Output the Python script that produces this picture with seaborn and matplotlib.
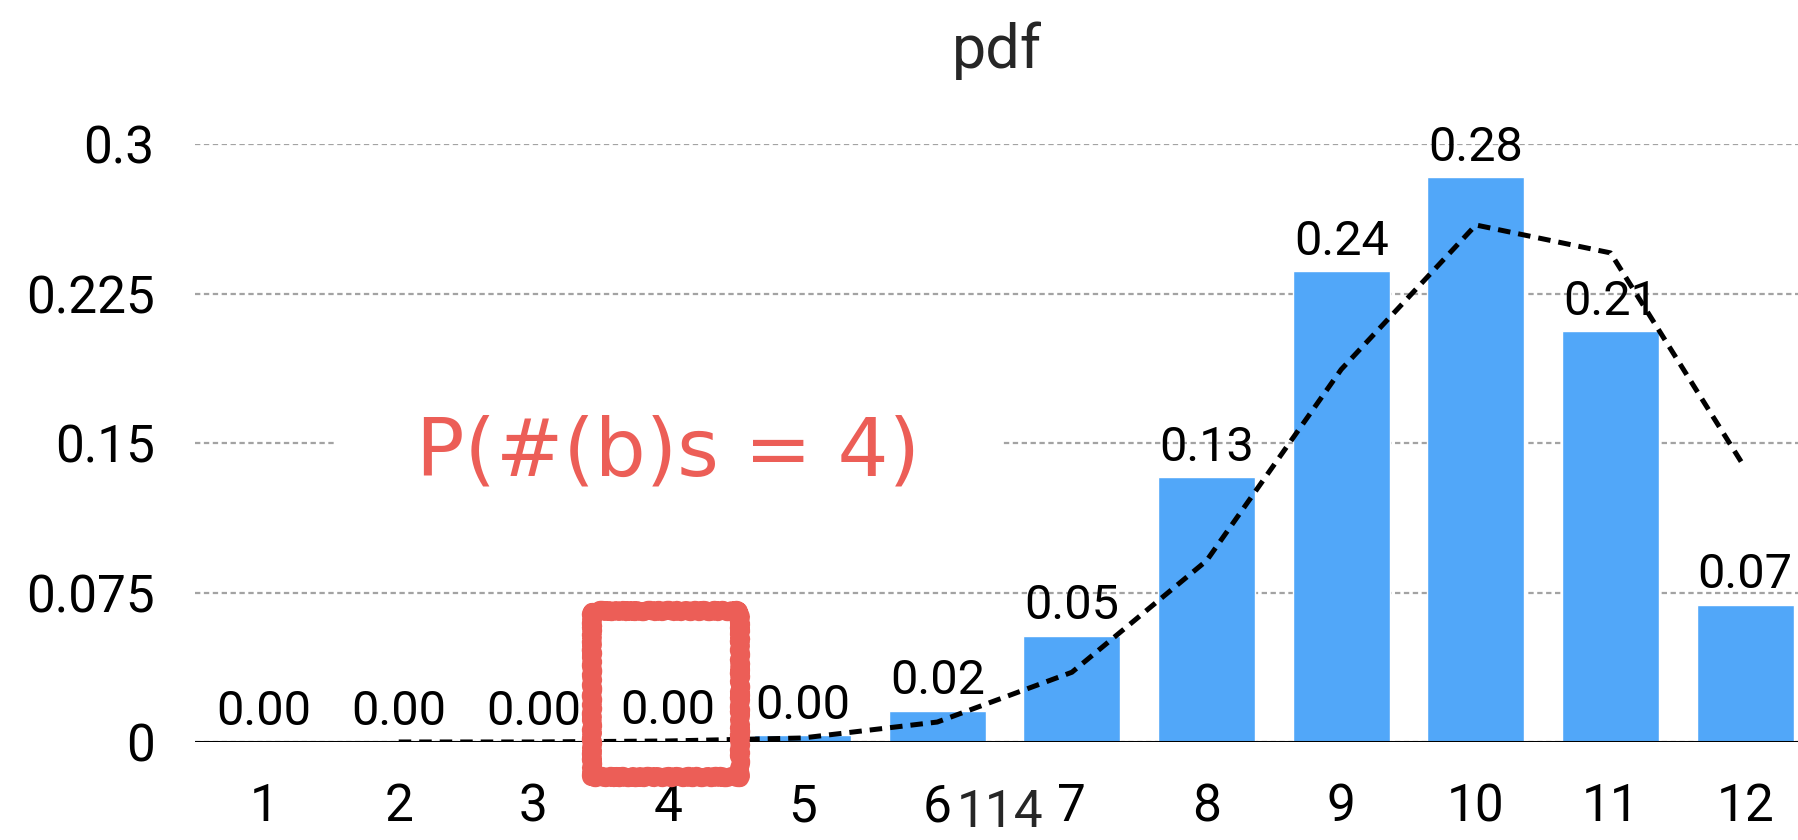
import matplotlib
matplotlib.use("Agg")
import matplotlib.pyplot as plt
import matplotlib.patches as mpatches
import seaborn as sns

# Probability of each count
counts = [1, 2, 3, 4, 5, 6, 7, 8, 9, 10, 11, 12]
pdf_values = [0.0000, 0.0000, 0.0001, 0.0005, 0.0033, 0.0155,
              0.0532, 0.1329, 0.2362, 0.2835, 0.2062, 0.0687]

# Dashed comparison curve
fit_x = [2, 3, 4, 5, 6, 7, 8, 9, 10, 11, 12]
fit_y = [0.0, 0.0, 0.0005, 0.002, 0.010, 0.035, 0.091, 0.187, 0.2595, 0.2455, 0.1375]

y_ticks = [0, 0.075, 0.15, 0.225, 0.3]
y_tick_labels = ["0", "0.075", "0.15", "0.225", "0.3"]

highlight_count = 4
annotation = "P(#(b)s = 4)"
page_number = "114"

BAR_BLUE = "#51A7F9"
CHALK_RED = "#EC5E57"

sns.set_style("white")
plt.rcParams["font.family"] = ["Roboto", "DejaVu Sans"]

fig = plt.figure(figsize=(17.99, 8.4), dpi=100)
ax = fig.add_axes([0.1084, 0.1167, 0.8916, 0.7115])

sns.barplot(x=counts, y=pdf_values, native_scale=True, orient="x",
            width=0.72, color=BAR_BLUE, saturation=1, ax=ax, zorder=2)

sns.lineplot(x=fit_x, y=fit_y, ax=ax, color="black", linewidth=3.6,
             linestyle=(0, (2.5, 1.6)), zorder=4)

# value labels above each bar
for c, v in zip(counts, pdf_values):
    ax.annotate(f"{v:.2f}", (c, v), xytext=(0, 12), textcoords="offset points",
                ha="center", va="baseline", fontsize=35,
                color="black", zorder=5, annotation_clip=False)

ax.set_xlim(0.487, 12.40)
ax.set_ylim(0, 0.3)
ax.set_xticks(counts)
ax.set_xticklabels([str(c) for c in counts], fontsize=37)
ax.set_yticks(y_ticks)
ax.set_yticklabels(y_tick_labels, fontsize=37)
ax.tick_params(axis="both", length=0, labelcolor="black")
ax.tick_params(axis="y", pad=29)
ax.tick_params(axis="x", pad=29)
ax.set_xlabel("")
ax.set_ylabel("")

for s in ax.spines.values():
    s.set_visible(False)

ax.yaxis.grid(True, color="#A3A3A3", linewidth=1.6, linestyle=(0, (2.4, 1.6)), zorder=0)
ax.xaxis.grid(False)
ax.set_axisbelow(True)
ax.axhline(0, color="black", linewidth=2.2, zorder=3)

ax.set_title("pdf", fontsize=44, pad=55)

# hand-drawn highlight around the chosen count
box = mpatches.Rectangle((highlight_count - 0.563, -0.0176), 1.1, 0.0834,
                         fill=False, edgecolor=CHALK_RED, linewidth=13,
                         joinstyle="round", clip_on=False, zorder=6)
box.set_sketch_params(scale=1.2, length=12, randomness=4)
ax.add_patch(box)

ax.text(highlight_count, 0.145, annotation, ha="center", va="center",
        fontsize=58, color=CHALK_RED, family=["DejaVu Sans"],
        zorder=6, bbox=dict(facecolor="white", edgecolor="none", pad=58))

fig.text(0.556, 0.002, page_number, ha="center", va="bottom", fontsize=37)

fig.savefig("out.png", dpi=100)
